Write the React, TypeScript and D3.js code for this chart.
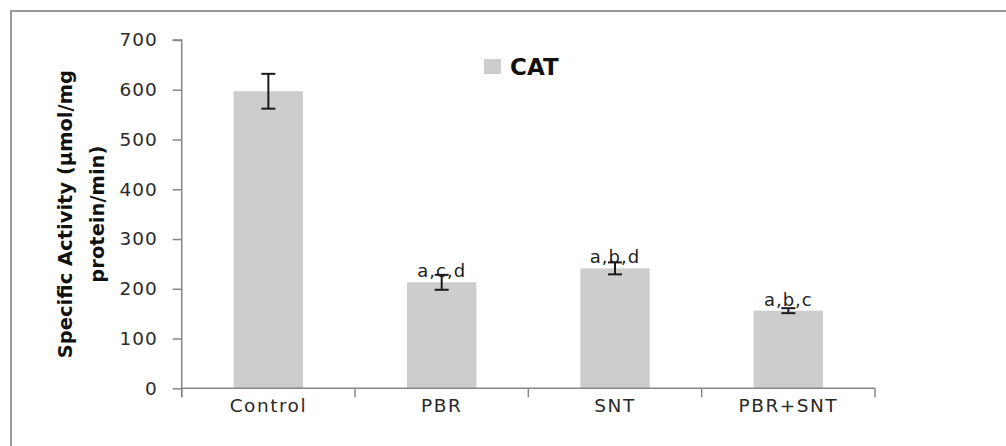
import * as d3 from "d3";
import { useEffect, useRef } from "react";

const categories = ["Control", "PBR", "SNT", "PBR+SNT"];
const activity = [597, 213, 241, 156];
const errors = [35, 15, 12, 5];
const letters = ["", "a,c,d", "a,b,d", "a,b,c"];
const yTicks = [0, 100, 200, 300, 400, 500, 600, 700];

const W = 1006;
const H = 446;
const axisColor = "#868686";
const barColor = "#cdcdcd";
const font = "'DejaVu Sans', Verdana, sans-serif";

function App() {
    const gx = useRef<SVGGElement>(null);
    const gy = useRef<SVGGElement>(null);

    const left = 181.7;
    const right = 875;
    const top = 40;
    const bottom = 388.3;

    const x = d3.scaleBand().domain(categories).range([left, right]).padding(0);
    const y = d3.scaleLinear().domain([0, 700]).range([bottom, top]);
    const barW = x.bandwidth() * 0.4;

    useEffect(() => {
        // x axis: ticks between categories, labels centered
        const ax = d3.select(gx.current);
        ax.selectAll("*").remove();
        ax.append("line")
            .attr("x1", left).attr("x2", right)
            .attr("y1", 0).attr("y2", 0)
            .attr("stroke", axisColor).attr("stroke-width", 1.5);
        const bounds = [...categories.map(c => x(c) as number), right];
        ax.selectAll("line.tick")
            .data(bounds)
            .join("line")
            .attr("class", "tick")
            .attr("x1", d => d).attr("x2", d => d)
            .attr("y1", 0).attr("y2", 9)
            .attr("stroke", axisColor).attr("stroke-width", 1.5);
        ax.selectAll("text")
            .data(categories)
            .join("text")
            .attr("x", d => (x(d) as number) + x.bandwidth() / 2)
            .attr("y", 24)
            .attr("text-anchor", "middle")
            .attr("font-family", font)
            .attr("font-size", 18.5)
            .attr("letter-spacing", 1.5)
            .attr("fill", "#2a2a2a")
            .text(d => d);

        // y axis
        const ay = d3.select(gy.current);
        ay.call(
            d3.axisLeft(y).tickValues(yTicks).tickSize(9).tickPadding(15).tickFormat(d3.format("d")) as any
        );
        ay.select(".domain").attr("stroke", axisColor).attr("stroke-width", 1.5)
            .attr("d", `M-9,${top}H0V${bottom + 9}`);
        ay.selectAll(".tick line").attr("stroke", axisColor).attr("stroke-width", 1.5);
        ay.selectAll(".tick text")
            .attr("font-family", font)
            .attr("font-size", 18.5)
            .attr("letter-spacing", 1)
            .attr("fill", "#2a2a2a");
    }, [x, y]);

    return (
        <svg width={W} height={H} style={{ position: "absolute", left: 0, top: 0, background: "#fff" }}>
            <rect x={11} y={11} width={W} height={H} fill="white" stroke="#999" strokeWidth={2} />

            {/* bars */}
            <g>
                {categories.map((c, i) => (
                    <rect
                        key={c}
                        x={(x(c) as number) + (x.bandwidth() - barW) / 2}
                        y={y(activity[i])}
                        width={barW}
                        height={y(0) - y(activity[i])}
                        fill={barColor}
                    />
                ))}
            </g>

            {/* significance letters */}
            <g fontFamily={font} fontSize={18} letterSpacing={1} fill="#222" textAnchor="middle">
                {categories.map((c, i) => (
                    <text key={c} x={(x(c) as number) + x.bandwidth() / 2} y={y(activity[i]) - 5}>
                        {letters[i]}
                    </text>
                ))}
            </g>

            {/* error bars */}
            <g stroke="#1a1a1a" strokeWidth={2}>
                {categories.map((c, i) => {
                    const cx = (x(c) as number) + x.bandwidth() / 2;
                    const hi = y(activity[i] + errors[i]);
                    const lo = y(activity[i] - errors[i]);
                    return (
                        <g key={c}>
                            <line x1={cx} x2={cx} y1={hi} y2={lo} />
                            <line x1={cx - 7} x2={cx + 7} y1={hi} y2={hi} />
                            <line x1={cx - 7} x2={cx + 7} y1={lo} y2={lo} />
                        </g>
                    );
                })}
            </g>

            <g ref={gy} transform={`translate(${left},0)`} />
            <g ref={gx} transform={`translate(0,${bottom})`} />

            {/* y title */}
            <text
                transform={`translate(0,${(top + bottom) / 2}) rotate(-90)`}
                textAnchor="middle"
                fontFamily={font}
                fontWeight="bold"
                fontSize={19.5}
                fill="#111"
            >
                <tspan x={0} y={72}>Specific Activity (µmol/mg</tspan>
                <tspan x={0} y={104}>protein/min)</tspan>
            </text>

            {/* legend */}
            <rect x={484} y={59} width={17} height={15} fill={barColor} />
            <text x={510} y={75} fontFamily={font} fontWeight="bold" fontSize={23} fill="#111">CAT</text>
        </svg>
    );
}

export default App;
